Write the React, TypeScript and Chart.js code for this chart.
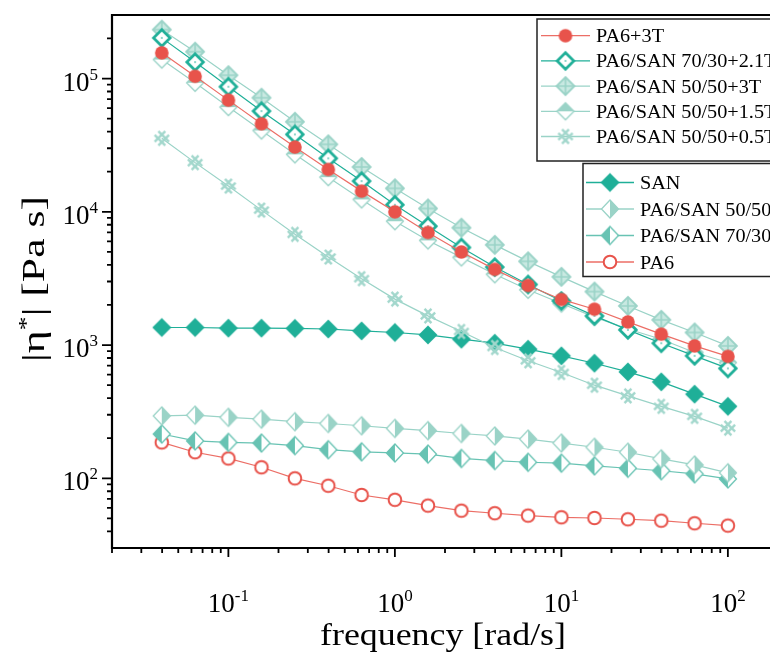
import React, { useEffect, useRef } from 'react';
import { Chart, registerables } from 'chart.js';

Chart.register(...registerables);

// ---------- data ----------
const FREQ = [0.0398, 0.0631, 0.1, 0.158, 0.251, 0.398, 0.631, 1, 1.58, 2.51, 3.98, 6.31, 10, 15.8, 25.1, 39.8, 63.1, 100];

const PA6_3T = [156000, 104000, 68900, 45800, 30600, 20800, 14300, 10000, 7000, 5000, 3700, 2800, 2200, 1858, 1493, 1208, 986, 822];
const PA6SAN7030_21T = [202000, 133000, 86900, 57000, 38100, 25200, 17000, 11300, 7800, 5400, 3850, 2850, 2143, 1656, 1300, 1033, 830, 668];
const PA6SAN5050_3T = [233000, 159000, 106000, 71800, 47400, 32100, 21700, 15000, 10600, 7600, 5650, 4250, 3250, 2520, 1967, 1546, 1243, 986];
const PA6SAN5050_15T = [139000, 93000, 61100, 40800, 27000, 18200, 12400, 8500, 6100, 4550, 3400, 2600, 2050, 1620, 1320, 1107, 880, 740];
const PA6SAN5050_05T = [35600, 23400, 15600, 10300, 6780, 4580, 3150, 2213, 1656, 1265, 960, 762, 623, 500, 416, 347, 292, 238];
const SAN = [1355, 1355, 1340, 1340, 1334, 1320, 1277, 1243, 1192, 1107, 1033, 931, 830, 731, 629, 530, 428, 347];
const PA6SAN5050 = [294, 298, 287, 278, 266, 258, 248, 237, 228, 217, 208, 197, 184, 171, 157, 140, 126, 110];
const PA6SAN7030 = [215, 191, 186, 184, 176, 164, 158, 155, 152, 141, 136, 132, 130, 124, 119, 114, 108, 99];
const PA6 = [186, 157, 141, 121, 100, 88, 75, 69, 62.4, 57.2, 54.7, 52.5, 51, 50.4, 49.3, 48.1, 46, 44.2];

const LEGEND1 = ['PA6+3T', 'PA6/SAN 70/30+2.1T', 'PA6/SAN 50/50+3T', 'PA6/SAN 50/50+1.5T', 'PA6/SAN 50/50+0.5T'];
const LEGEND2 = ['SAN', 'PA6/SAN 50/50', 'PA6/SAN 70/30', 'PA6'];

const X_MIN = 0.02;
const X_MAX = 200;
const Y_MIN = 30;
const Y_MAX = 300000;
const X_LABEL_EXPONENTS = [-1, 0, 1, 2];
const Y_LABEL_EXPONENTS = [2, 3, 4, 5];
const MINOR_MULTIPLIERS = [2, 3, 4, 5, 6, 7, 8, 9];
const X_TITLE = 'frequency [rad/s]';

// ---------- style ----------
const FONT = '"Liberation Serif", "DejaVu Serif", serif';
const RED = '#E8534B';
const RED_LINE = '#EC6E66';
const TEAL = '#1FAF98';
const LIGHT = '#9AD3C7';
const MED = '#68C3B3';

function mk(size: number, draw: (g: CanvasRenderingContext2D) => void) {
  const c = document.createElement('canvas');
  c.width = size;
  c.height = size;
  const g = c.getContext('2d')!;
  g.translate(size / 2, size / 2);
  draw(g);
  return c;
}
function diamond(g: CanvasRenderingContext2D, ry: number, rx: number) {
  g.beginPath();
  g.moveTo(0, -ry);
  g.lineTo(rx, 0);
  g.lineTo(0, ry);
  g.lineTo(-rx, 0);
  g.closePath();
}

function makeMarkers() {
  return {
    filledCircle: mk(18, g => {
      g.beginPath();
      g.arc(0, 0, 6.8, 0, Math.PI * 2);
      g.fillStyle = RED;
      g.fill();
    }),
    hollowCircle: mk(18, g => {
      g.beginPath();
      g.arc(0, 0, 6.3, 0, Math.PI * 2);
      g.fillStyle = '#fff';
      g.fill();
      g.lineWidth = 2;
      g.strokeStyle = RED;
      g.stroke();
    }),
    hollowDiamond: mk(24, g => {
      diamond(g, 8.3, 8.3);
      g.fillStyle = '#fff';
      g.fill();
      g.lineWidth = 2.7;
      g.strokeStyle = TEAL;
      g.stroke();
      g.fillStyle = TEAL;
      g.fillRect(-0.5, -1, 1, 2);
    }),
    crossDiamond: mk(24, g => {
      diamond(g, 9, 9);
      g.fillStyle = '#C9E9E2';
      g.fill();
      g.lineWidth = 1.8;
      g.strokeStyle = LIGHT;
      g.stroke();
      g.beginPath();
      g.moveTo(0, -8.5);
      g.lineTo(0, 8.5);
      g.moveTo(-8.5, 0);
      g.lineTo(8.5, 0);
      g.lineWidth = 1.6;
      g.stroke();
    }),
    halfTopDiamond: mk(24, g => {
      diamond(g, 8.5, 8.5);
      g.fillStyle = '#fff';
      g.fill();
      g.beginPath();
      g.moveTo(-8.5, 0);
      g.lineTo(0, -8.5);
      g.lineTo(8.5, 0);
      g.closePath();
      g.fillStyle = LIGHT;
      g.fill();
      diamond(g, 8.5, 8.5);
      g.lineWidth = 1.3;
      g.strokeStyle = LIGHT;
      g.stroke();
    }),
    snowflake: mk(22, g => {
      g.strokeStyle = '#A2D7CC';
      g.lineWidth = 2.4;
      const d = 2.6;
      const L = 7.5;
      const s = Math.SQRT1_2;
      g.beginPath();
      for (const o of [-d, d]) {
        g.moveTo(-L * s + o * s, -L * s - o * s);
        g.lineTo(L * s + o * s, L * s - o * s);
        g.moveTo(-L * s + o * s, L * s + o * s);
        g.lineTo(L * s + o * s, -L * s + o * s);
      }
      g.stroke();
    }),
    filledDiamond: mk(24, g => {
      diamond(g, 9.5, 9.5);
      g.fillStyle = TEAL;
      g.fill();
    }),
    halfRightDiamond: mk(24, g => {
      diamond(g, 9, 8.5);
      g.fillStyle = '#fff';
      g.fill();
      g.beginPath();
      g.moveTo(0, -9);
      g.lineTo(8.5, 0);
      g.lineTo(0, 9);
      g.closePath();
      g.fillStyle = LIGHT;
      g.fill();
      diamond(g, 9, 8.5);
      g.lineWidth = 1.3;
      g.strokeStyle = LIGHT;
      g.stroke();
    }),
    halfLeftDiamond: mk(24, g => {
      diamond(g, 9, 8.5);
      g.fillStyle = '#fff';
      g.fill();
      g.beginPath();
      g.moveTo(0, -9);
      g.lineTo(-8.5, 0);
      g.lineTo(0, 9);
      g.closePath();
      g.fillStyle = MED;
      g.fill();
      diamond(g, 9, 8.5);
      g.lineWidth = 1.3;
      g.strokeStyle = MED;
      g.stroke();
    }),
  };
}

function drawPow(ctx: CanvasRenderingContext2D, exp: number, x: number, baseline: number, align: 'center' | 'right') {
  ctx.textAlign = 'left';
  ctx.textBaseline = 'alphabetic';
  ctx.font = `27px ${FONT}`;
  const wb = ctx.measureText('10').width;
  ctx.font = `17px ${FONT}`;
  const es = String(exp);
  const we = ctx.measureText(es).width;
  const total = wb + we;
  const start = align === 'center' ? x - total / 2 : x - total;
  ctx.font = `27px ${FONT}`;
  ctx.fillText('10', start, baseline);
  ctx.font = `17px ${FONT}`;
  ctx.fillText(es, start + wb, baseline - 11);
}

export default function App() {
  const ref = useRef<HTMLCanvasElement>(null);

  useEffect(() => {
    const canvas = ref.current!;
    const M = makeMarkers();
    const series = [
      { label: LEGEND1[0], data: PA6_3T, line: RED_LINE, marker: M.filledCircle },
      { label: LEGEND1[1], data: PA6SAN7030_21T, line: TEAL, marker: M.hollowDiamond },
      { label: LEGEND1[2], data: PA6SAN5050_3T, line: LIGHT, marker: M.crossDiamond },
      { label: LEGEND1[3], data: PA6SAN5050_15T, line: LIGHT, marker: M.halfTopDiamond },
      { label: LEGEND1[4], data: PA6SAN5050_05T, line: LIGHT, marker: M.snowflake },
      { label: LEGEND2[0], data: SAN, line: TEAL, marker: M.filledDiamond },
      { label: LEGEND2[1], data: PA6SAN5050, line: LIGHT, marker: M.halfRightDiamond },
      { label: LEGEND2[2], data: PA6SAN7030, line: MED, marker: M.halfLeftDiamond },
      { label: LEGEND2[3], data: PA6, line: RED_LINE, marker: M.hollowCircle },
    ];

    const overlay = {
      id: 'overlay',
      afterDraw(chart: any) {
        const ctx: CanvasRenderingContext2D = chart.ctx;
        const xs = chart.scales.x;
        const ys = chart.scales.y;
        const ca = chart.chartArea;
        const W = chart.width;
        ctx.save();
        ctx.fillStyle = '#000';
        ctx.strokeStyle = '#000';

        // frame
        ctx.lineWidth = 2;
        ctx.beginPath();
        ctx.moveTo(ca.left, ca.top);
        ctx.lineTo(W, ca.top);
        ctx.stroke();
        ctx.lineWidth = 2.2;
        ctx.beginPath();
        ctx.moveTo(ca.left, ca.top - 1);
        ctx.lineTo(ca.left, ca.bottom + 1);
        ctx.moveTo(ca.left - 1, ca.bottom);
        ctx.lineTo(W, ca.bottom);
        ctx.stroke();

        // ticks
        ctx.lineWidth = 1.8;
        ctx.beginPath();
        for (let e = -2; e <= 2; e++) {
          for (const m of [1, ...MINOR_MULTIPLIERS]) {
            const v = m * Math.pow(10, e);
            if (v < X_MIN - 1e-9 || v > X_MAX + 1e-9) continue;
            const px = xs.getPixelForValue(v);
            const len = m === 1 ? 9 : 5;
            ctx.moveTo(px, ca.bottom);
            ctx.lineTo(px, ca.bottom + len);
          }
        }
        for (let e = 1; e <= 5; e++) {
          for (const m of [1, ...MINOR_MULTIPLIERS]) {
            const v = m * Math.pow(10, e);
            if (v <= Y_MIN * 1.0001 || v >= Y_MAX * 0.9999) continue;
            const py = ys.getPixelForValue(v);
            const len = m === 1 ? 10 : 5;
            ctx.moveTo(ca.left, py);
            ctx.lineTo(ca.left - len, py);
          }
        }
        ctx.stroke();

        // tick labels
        for (const e of X_LABEL_EXPONENTS) {
          drawPow(ctx, e, xs.getPixelForValue(Math.pow(10, e)), ca.bottom + 64, 'center');
        }
        for (const e of Y_LABEL_EXPONENTS) {
          drawPow(ctx, e, 98, ys.getPixelForValue(Math.pow(10, e)) + 12, 'right');
        }

        // x title
        ctx.font = `31px ${FONT}`;
        ctx.textAlign = 'center';
        ctx.textBaseline = 'alphabetic';
        {
          const w = ctx.measureText(X_TITLE).width;
          const sx = 246 / w;
          ctx.save();
          ctx.translate(443, 645);
          ctx.scale(sx, 1);
          ctx.fillText(X_TITLE, 0, 0);
          ctx.restore();
        }

        // y title
        {
          ctx.save();
          ctx.translate(44, 279);
          ctx.rotate(-Math.PI / 2);
          ctx.textAlign = 'left';
          ctx.font = `31px ${FONT}`;
          const p1 = '|\u03B7';
          const p3 = '| [Pa s]';
          const w1 = ctx.measureText(p1).width;
          const w3 = ctx.measureText(p3).width;
          ctx.font = `20px ${FONT}`;
          const w2 = ctx.measureText('*').width;
          const total = w1 + w2 + w3;
          const sx = 166 / total;
          ctx.scale(sx, 1);
          let u = -total / 2;
          ctx.font = `31px ${FONT}`;
          ctx.fillText(p1, u, 0);
          u += w1;
          ctx.font = `20px ${FONT}`;
          ctx.fillText('*', u, -11);
          u += w2;
          ctx.font = `31px ${FONT}`;
          ctx.fillText(p3, u, 0);
          ctx.restore();
        }

        // legends
        const drawLegend = (bx: number, by: number, bh: number, rows: number[], items: any[], lx0: number, lx1: number, tx: number) => {
          ctx.fillStyle = '#fff';
          ctx.fillRect(bx, by, W - bx + 10, bh);
          ctx.strokeStyle = '#222';
          ctx.lineWidth = 1.5;
          ctx.strokeRect(bx, by, W - bx + 10, bh);
          ctx.font = `18.5px ${FONT}`;
          const sx = 68 / ctx.measureText('PA6+3T').width;
          items.forEach((it, i) => {
            const y = rows[i];
            ctx.strokeStyle = it.line;
            ctx.lineWidth = 1.3;
            ctx.beginPath();
            ctx.moveTo(lx0, y);
            ctx.lineTo(lx1, y);
            ctx.stroke();
            const mc = it.marker as HTMLCanvasElement;
            const mx = (lx0 + lx1) / 2;
            ctx.drawImage(mc, mx - mc.width / 2, y - mc.height / 2);
            ctx.fillStyle = '#000';
            ctx.textAlign = 'left';
            ctx.textBaseline = 'alphabetic';
            ctx.save();
            ctx.translate(tx, y + 6.5);
            ctx.scale(sx, 1);
            ctx.fillText(it.label, 0, 0);
            ctx.restore();
          });
        };
        drawLegend(537, 19, 142, [35.7, 60.9, 86.1, 111.3, 136.5], series.slice(0, 5), 541, 590, 596);
        drawLegend(583, 163.5, 113, [182.5, 209, 235.5, 262], series.slice(5), 586, 634, 640);

        ctx.restore();
      },
    };

    const chart = new Chart(canvas, {
      type: 'line',
      data: {
        datasets: series.map(s => ({
          label: s.label,
          data: FREQ.map((f, i) => ({ x: f, y: s.data[i] })),
          borderColor: s.line,
          backgroundColor: s.line,
          borderWidth: 1.2,
          pointStyle: s.marker as any,
          pointRadius: 8,
          pointHoverRadius: 8,
          fill: false,
          tension: 0,
        })),
      },
      options: {
        responsive: false,
        animation: false,
        devicePixelRatio: 1,
        events: [],
        layout: { padding: { left: 112, top: 15, right: 22, bottom: 109 } },
        scales: {
          x: { type: 'logarithmic', min: X_MIN, max: X_MAX, display: false },
          y: { type: 'logarithmic', min: Y_MIN, max: Y_MAX, display: false },
        },
        plugins: { legend: { display: false }, tooltip: { enabled: false } },
      },
      plugins: [overlay],
    } as any);
    return () => chart.destroy();
  }, []);

  return (
    <div style={{ position: 'fixed', left: 0, top: 0, width: 770, height: 657, overflow: 'hidden', background: '#fff' }}>
      <canvas ref={ref} width={800} height={657} style={{ display: 'block' }} />
    </div>
  );
}
